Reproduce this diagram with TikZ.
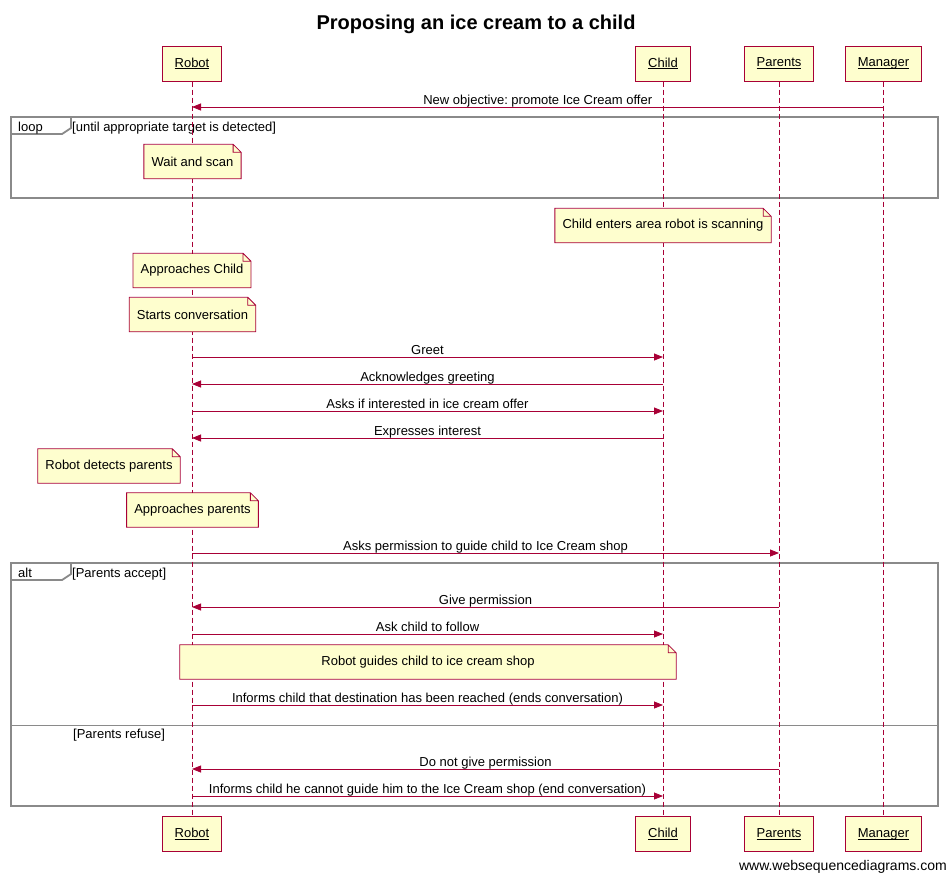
\documentclass[tikz,border=0pt]{standalone}
\usepackage{fontspec}
\setmainfont{Liberation Sans}
\usetikzlibrary{positioning,arrows.meta}
\frenchspacing

\definecolor{wsdred}{HTML}{A80036}
\definecolor{wsdyellow}{HTML}{FEFECE}
\definecolor{framegray}{HTML}{8A8A8A}

\tikzset{
  actor/.style={draw=wsdred, fill=wsdyellow, line width=1pt, minimum height=35pt, inner xsep=12.5pt},
  lifeline/.style={draw=wsdred, line width=0.8pt, dash pattern=on 5pt off 3pt},
  msg/.style={draw=wsdred, line width=0.8pt, -{Triangle[length=9pt,width=7pt]}},
  msglabel/.style={inner sep=0pt, anchor=base, yshift=2.5pt},
  notebox/.style={fill=wsdyellow, minimum height=34pt, inner xsep=7.5pt},
  frame/.style={draw=framegray, line width=1.8pt},
  framelabel/.style={inner sep=0pt, anchor=base west},
}

% underline at a fixed depth, whatever the letters
\newcommand{\actorname}[1]{\underline{\raisebox{0pt}[\height][0pt]{#1}}}

% note with folded corner
\newcommand{\stickynote}[4][]{%
  \node[notebox,#1] (#2) at (#3) {#4};
  \fill[white] ([xshift=-8pt]#2.north east) -- (#2.north east) -- ([yshift=-8pt]#2.north east) -- cycle;
  \draw[wsdred, line width=0.8pt] (#2.north west) -- ([xshift=-8pt]#2.north east) -- ([yshift=-8pt]#2.north east)
    -- (#2.south east) -- (#2.south west) -- cycle
    ([xshift=-8pt]#2.north east) |- ([yshift=-8pt]#2.north east);
}

\begin{document}
\begin{tikzpicture}[x=1pt, y=-1pt, every node/.style={font=\fontsize{13}{15}\selectfont}]
  \useasboundingbox (0,0) rectangle (948,873);

  \node[font=\bfseries\fontsize{20}{24}\selectfont] (title) at (476,24) {Proposing an ice cream to a child};

  % frames
  \draw[frame] (11,117) rectangle (938,198);
  \draw[frame] (71,117) -- (71,128) -- (62,134) -- (11,134);
  \node[framelabel] (looptag) at (18,131) {loop};
  \node[framelabel] (loopcond) at (72,131) {[until appropriate target is detected]};

  \draw[frame] (11,563) rectangle (938,806);
  \draw[frame] (71,563) -- (71,574) -- (62,580) -- (11,580);
  \draw[framegray, line width=0.8pt] (11,725) -- (938,725);
  \node[framelabel] (alttag) at (18,577) {alt};
  \node[framelabel] (altcond) at (72,577) {[Parents accept]};
  \node[framelabel] (elsecond) at (73,738.5) {[Parents refuse]};

  % participants
  \foreach \p/\x/\name in {robot/192/Robot, child/663/Child, parents/779/Parents, manager/883.5/Manager}{
    \node[actor] (\p) at (\x,63.5) {\actorname{\name}};
    \node[actor] (bot-\p) at (\x,834) {\actorname{\name}};
    \draw[lifeline] (\p.south) -- (bot-\p.north);
  }

  % notes
  \stickynote{wait}{192.5,161.5}{Wait and scan}
  \stickynote{enters}{663,225.5}{Child enters area robot is scanning}
  \stickynote{approach}{192,270.5}{Approaches Child}
  \stickynote{starts}{192.5,314.5}{Starts conversation}
  \stickynote{detects}{109,466}{Robot detects parents}
  \stickynote{approachp}{192.5,510}{Approaches parents}
  \stickynote[minimum width=496pt]{guides}{428,662}{Robot guides child to ice cream shop}

  % messages
  \foreach \y/\src/\dst/\txt in {
      107/manager/robot/{New objective: promote Ice Cream offer},
      357/robot/child/{Greet},
      384/child/robot/{Acknowledges greeting},
      411/robot/child/{Asks if interested in ice cream offer},
      438/child/robot/{Expresses interest},
      553/robot/parents/{Asks permission to guide child to Ice Cream shop},
      607/parents/robot/{Give permission},
      634/robot/child/{Ask child to follow},
      705/robot/child/{Informs child that destination has been reached (ends conversation)},
      769/parents/robot/{Do not give permission},
      796/robot/child/{Informs child he cannot guide him to the Ice Cream shop (end conversation)}}
    \draw[msg] (\src |- 0,\y) -- node[msglabel] {\txt} (\dst |- 0,\y);

  \node[anchor=base east, inner sep=0pt, font=\fontsize{14}{16}\selectfont] (credit) at (947,870) {www.websequencediagrams.com};
\end{tikzpicture}
\end{document}
